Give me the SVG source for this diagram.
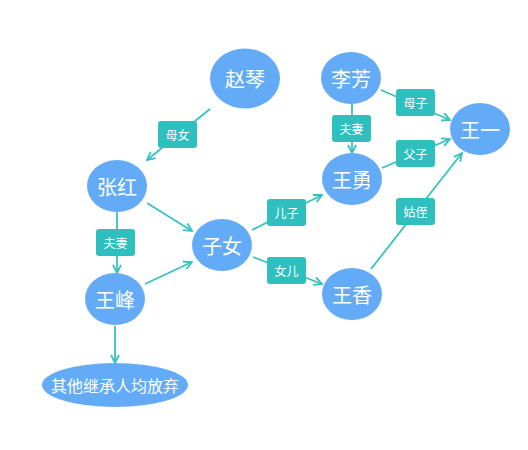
<svg xmlns="http://www.w3.org/2000/svg" width="528" height="450" viewBox="0 0 528 450">
<style>
.node ellipse{fill:#64abf7;}
.node text{fill:#fff;font-family:"Noto Sans CJK SC","Noto Sans",sans-serif;font-size:20px;text-anchor:middle;dominant-baseline:central;}
.node text.long{font-size:16px;}
.edge line{stroke:#35c2c0;stroke-width:1.8;fill:none;}
.edge line.arr{marker-end:url(#ah);}
.lbl rect{fill:#30bfbf;}
.lbl text{fill:#fff;font-family:"Noto Sans CJK SC","Noto Sans",sans-serif;font-size:12px;text-anchor:middle;dominant-baseline:central;}
</style>
<defs>
<marker id="ah" viewBox="0 0 10 10" refX="9" refY="5" markerWidth="10" markerHeight="10" markerUnits="userSpaceOnUse" orient="auto">
<path d="M1,1 L9,5 L1,9" fill="none" stroke="#35c2c0" stroke-width="1.8"/>
</marker>
</defs>
<rect width="528" height="450" fill="#fff"/>
<g id="connectors">
<g class="edge"><line class="arr" x1="210" y1="109" x2="147" y2="160"/></g>
<g class="edge"><line class="arr" x1="147" y1="203" x2="192" y2="231"/></g>
<g class="edge"><line class="arr" x1="117" y1="212" x2="117" y2="273"/></g>
<g class="edge"><line class="arr" x1="145" y1="284" x2="192" y2="262"/></g>
<g class="edge"><line class="arr" x1="115" y1="326" x2="115" y2="363"/></g>
<g class="edge"><line class="arr" x1="252" y1="230" x2="322" y2="195"/></g>
<g class="edge"><line class="arr" x1="253" y1="257" x2="322" y2="284"/></g>
<g class="edge"><line class="arr" x1="381" y1="90" x2="450" y2="120"/></g>
<g class="edge"><line class="arr" x1="352" y1="104" x2="352" y2="153"/></g>
<g class="edge"><line class="arr" x1="382" y1="168" x2="450" y2="139"/></g>
<g class="edge"><line class="arr" x1="371" y1="269" x2="462" y2="153"/></g>
<g class="lbl"><rect x="158" y="121" width="39" height="27" rx="3"/><text x="177.5" y="134.5">母女</text></g>
<g class="lbl"><rect x="96" y="229" width="39" height="27" rx="3"/><text x="115.5" y="242.5">夫妻</text></g>
<g class="lbl"><rect x="267" y="199" width="39" height="27" rx="3"/><text x="286.5" y="212.5">儿子</text></g>
<g class="lbl"><rect x="267" y="257" width="39" height="27" rx="3"/><text x="286.5" y="270.5">女儿</text></g>
<g class="lbl"><rect x="396" y="89" width="39" height="27" rx="3"/><text x="415.5" y="102.5">母子</text></g>
<g class="lbl"><rect x="332" y="115" width="39" height="27" rx="3"/><text x="351.5" y="128.5">夫妻</text></g>
<g class="lbl"><rect x="396" y="140" width="39" height="27" rx="3"/><text x="415.5" y="153.5">父子</text></g>
<g class="lbl"><rect x="396" y="198" width="39" height="27" rx="3"/><text x="415.5" y="211.5">姑侄</text></g>
</g>
<g id="n-zhaoqin" class="node"><ellipse cx="245" cy="78.5" rx="35" ry="30"/><text x="245" y="78.5">赵琴</text></g>
<g id="n-zhanghong" class="node"><ellipse cx="117" cy="186" rx="30" ry="26"/><text x="117" y="186">张红</text></g>
<g id="n-wangfeng" class="node"><ellipse cx="115" cy="299" rx="30" ry="26"/><text x="115" y="299">王峰</text></g>
<g id="n-zinv" class="node"><ellipse cx="222" cy="245" rx="30" ry="26"/><text x="222" y="245">子女</text></g>
<g id="n-lifang" class="node"><ellipse cx="351" cy="78" rx="30" ry="26"/><text x="351" y="78">李芳</text></g>
<g id="n-wangyong" class="node"><ellipse cx="352" cy="179" rx="30" ry="26"/><text x="352" y="179">王勇</text></g>
<g id="n-wangxiang" class="node"><ellipse cx="352" cy="294" rx="30" ry="26"/><text x="352" y="294">王香</text></g>
<g id="n-wangyi" class="node"><ellipse cx="480" cy="129" rx="30" ry="26"/><text x="480" y="129">王一</text></g>
<g id="n-others" class="node"><ellipse cx="115" cy="385" rx="73" ry="22"/><text class="long" x="115" y="385">其他继承人均放弃</text></g>
</svg>
